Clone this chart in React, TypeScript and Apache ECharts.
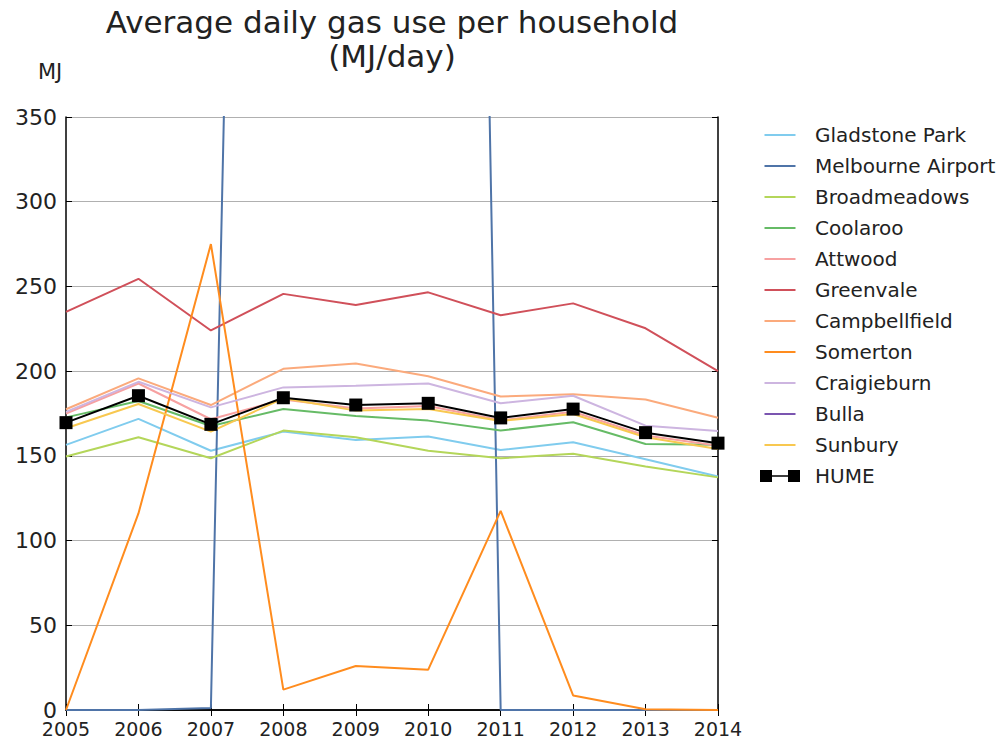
import React, { useEffect, useRef } from "react";
import * as echarts from "echarts";

const years = ["2005", "2006", "2007", "2008", "2009", "2010", "2011", "2012", "2013", "2014"];
const yTicks = { min: 0, max: 350, interval: 50 };

const gladstonePark = [156.5, 171.8, 153, 164.3, 159.4, 161.4, 153.5, 158, 148, 137.8];
const melbourneAirport = [0, 0, 1.2, 1950, 2100, 2300, 0, 0, 0, 0];
const broadmeadows = [149.6, 161, 148.6, 164.9, 161, 153, 148.6, 151.2, 143.7, 137.3];
const coolaroo = [172.7, 182.4, 167.6, 177.6, 173.5, 170.8, 165, 169.8, 157, 156.5];
const attwood = [175, 192.7, 171.6, 183.3, 178, 179.4, 171, 176, 162, 156];
const greenvale = [235, 254.5, 224, 245.6, 239, 246.5, 233, 240, 225.3, 200];
const campbellfield = [177.5, 195.7, 180, 201.4, 204.5, 197, 185, 186.3, 183.3, 172.5];
const somerton = [0, 116, 275, 12, 26, 23.8, 117.5, 8.6, 0.5, 0];
const craigieburn = [176, 193.7, 178.6, 190.4, 191.4, 192.7, 181, 185.5, 167.8, 164.7];
const bulla: (number | null)[] = [null, null, null, null, null, null, null, null, null, null];
const sunbury = [166.3, 180.6, 164.3, 184, 176.7, 177.6, 170.6, 174.7, 161, 154];
const hume = [169.6, 185.5, 168.6, 184.3, 180, 181, 172.4, 177.6, 163.7, 157.5];

const seriesDefs: { name: string; data: (number | null)[]; color: string }[] = [
  { name: "Gladstone Park", data: gladstonePark, color: "#80ccee" },
  { name: "Melbourne Airport", data: melbourneAirport, color: "#4f74a8" },
  { name: "Broadmeadows", data: broadmeadows, color: "#b4d65a" },
  { name: "Coolaroo", data: coolaroo, color: "#66bb66" },
  { name: "Attwood", data: attwood, color: "#f7a1a1" },
  { name: "Greenvale", data: greenvale, color: "#d0505a" },
  { name: "Campbellfield", data: campbellfield, color: "#fbaa7c" },
  { name: "Somerton", data: somerton, color: "#ff8c1e" },
  { name: "Craigieburn", data: craigieburn, color: "#cdb5e0" },
  { name: "Bulla", data: bulla, color: "#7b55b0" },
  { name: "Sunbury", data: sunbury, color: "#f8c850" },
];

const FONT = "DejaVu Sans";
const TXT = "#222";
const LINE_ICON = "path://M-4.5,0.5L-4.5,0.6 M0,0H31V2.2H0Z M35.5,0.5L35.5,0.6";
const HUME_ICON = "path://M0,0H12V12H0Z M28,0H40V12H28Z M12,5.2H28V6.8H12Z";

export default function App() {
  const ref = useRef<HTMLDivElement>(null);
  useEffect(() => {
    if (!ref.current) return;
    const chart = echarts.init(ref.current, undefined, { renderer: "svg" });
    const lineSeries = seriesDefs.map((s) => ({
      name: s.name,
      type: "line",
      data: s.data,
      xAxisIndex: 0,
      yAxisIndex: 0,
      symbol: "none",
      showSymbol: false,
      clip: true,
      color: s.color,
      itemStyle: { color: s.color },
      lineStyle: { color: s.color, width: 2 },
    }));
    const humeSeries = {
      name: "HUME",
      type: "line",
      data: hume,
      xAxisIndex: 0,
      yAxisIndex: 0,
      symbol: "rect",
      symbolSize: 13,
      clip: true,
      color: "#000",
      itemStyle: { color: "#000" },
      lineStyle: { color: "#000", width: 2 },
    };
    chart.setOption({
      animation: false,
      backgroundColor: "#fff",
      textStyle: { fontFamily: FONT },
      graphic: [
        {
          type: "text",
          x: 392,
          y: 5,
          style: {
            text: "Average daily gas use per household\n(MJ/day)",
            font: `31px '${FONT}'`,
            fill: TXT,
            textAlign: "center",
            textVerticalAlign: "top",
            lineHeight: 34,
          },
        },
        {
          type: "text",
          x: 38,
          y: 61,
          style: { text: "MJ", font: `21px '${FONT}'`, fill: TXT },
        },
      ],
      grid: { left: 66, right: 289, top: 117, bottom: 30, containLabel: false },
      legend: {
        orient: "vertical",
        left: 755,
        top: 120,
        itemWidth: 40,
        itemHeight: 12,
        itemGap: 11,
        textStyle: { fontFamily: FONT, fontSize: 20, color: TXT, lineHeight: 20, padding: [0, 0, 0, 10] },
        data: [
          ...seriesDefs.map((s) => ({ name: s.name, icon: LINE_ICON })),
          { name: "HUME", icon: HUME_ICON },
        ],
      },
      xAxis: [
        {
          type: "category",
          data: years,
          boundaryGap: false,
          position: "bottom",
          axisLine: { lineStyle: { color: "#000", width: 1.5 } },
          axisTick: { inside: true, length: 6, lineStyle: { color: "#000" } },
          axisLabel: { fontSize: 19, lineHeight: 16, color: TXT, fontFamily: FONT, margin: 11 },
          splitLine: { show: false },
        },
        {
          type: "category",
          data: years,
          boundaryGap: false,
          position: "top",
          axisLine: { lineStyle: { color: "#000", width: 1.5 } },
          axisTick: { inside: true, length: 6, lineStyle: { color: "#000" } },
          axisLabel: { show: false },
          splitLine: { show: false },
        },
      ],
      yAxis: [
        {
          type: "value",
          min: yTicks.min,
          max: yTicks.max,
          interval: yTicks.interval,
          position: "left",
          axisLine: { show: true, lineStyle: { color: "#000", width: 1.5 } },
          axisTick: { show: true, inside: true, length: 6, lineStyle: { color: "#000" } },
          axisLabel: { fontSize: 22, lineHeight: 14, color: TXT, fontFamily: FONT, margin: 9, padding: [0, 0, 6, 0] },
          splitLine: { show: true, lineStyle: { color: "#b0b0b0", width: 1 } },
        },
        {
          type: "value",
          min: yTicks.min,
          max: yTicks.max,
          interval: yTicks.interval,
          position: "right",
          axisLine: { show: true, lineStyle: { color: "#000", width: 1.5 } },
          axisTick: { show: true, inside: true, length: 6, lineStyle: { color: "#000" } },
          axisLabel: { show: false },
          splitLine: { show: false },
        },
      ],
      series: [...lineSeries, humeSeries],
    });
    return () => chart.dispose();
  }, []);
  return <div ref={ref} style={{ width: 1007, height: 740, position: "absolute", left: 0, top: 0 }} />;
}
